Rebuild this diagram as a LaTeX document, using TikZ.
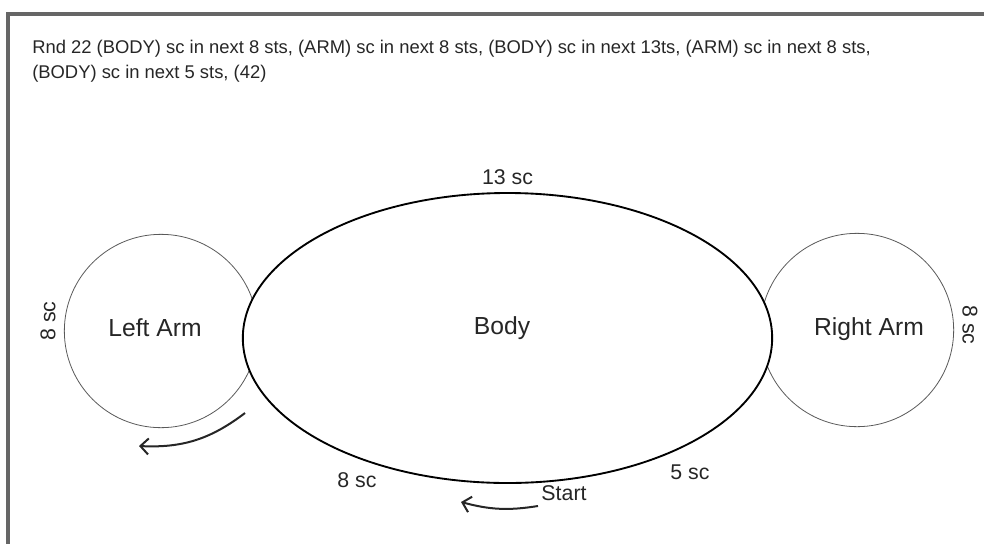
\documentclass[tikz,border=0pt]{standalone}
\usepackage{fontspec}
\setmainfont{Liberation Sans}
\usetikzlibrary{arrows.meta,positioning,shapes.geometric}

\begin{document}
\begin{tikzpicture}[x=0.75pt,y=-0.75pt]
  \tikzstyle{arm}=[circle,draw=black!65,line width=0.6pt,minimum size=145pt,inner sep=0pt]
  \tikzstyle{body}=[ellipse,draw=black,line width=1.4pt,fill=white,
  			  minimum width=397pt,minimum height=217.5pt,inner sep=0pt]
  \tikzstyle{label}=[font=\fontsize{18.5}{22}\selectfont,text=black!85,inner sep=1pt]
  \tikzstyle{count}=[font=\fontsize{16}{19}\selectfont,text=black!85,inner sep=1pt]
  \tikzstyle{turn}=[-{Straight Barb[length=6pt,width=12pt]},line width=1.5pt,black!85]
  \tikzstyle{frame}=[line width=3pt,black!60]

  \useasboundingbox (0,0) rectangle (984,543);
  \clip (0,0) rectangle (984,543);
  \draw[frame] (8,560) -- (8,14) -- (1000,14);

  \node[anchor=base west,align=left,inner sep=0pt,text=black!85,
        font=\fontsize{13.8}{18.75}\selectfont] (round) at (32,78)
    {Rnd 22 (BODY) sc in next 8 sts, (ARM) sc in next 8 sts, (BODY) sc in next 13ts, (ARM) sc in next 8 sts,\\
     (BODY) sc in next 5 sts, (42)};

  \node[arm] (leftarm) at (161,331) {};
  \node[arm] (rightarm) at (857,330) {};
  \node[body] (body) at (507.5,338) {};

  \node[label] (bodytext) at (502,328) {Body};
  \node[label] (lefttext) at (155,328) {Left Arm};
  \node[label] (righttext) at (869,329) {Right Arm};

  \node[count] (top) [above=4pt of body] {13 sc};
  \node[count,rotate=90] (leftsc) at (48,321) {8 sc};
  \node[count,rotate=-90] (rightsc) at (970,325) {8 sc};
  \node[count] (bottomsc) at (357,480) {8 sc};
  \node[count] (rightsc2) at (690,472) {5 sc};
  \node[count] (start) at (564,493) {Start};

  \coordinate (lefttail) at (245,413);
  \coordinate (lefthead) at (139,446);
  \coordinate (starttail) at (538,506);
  \coordinate (starthead) at (461,502);

  \draw[turn] (lefttail) to[bend left=20] (lefthead);
  \draw[turn] (starttail) to[bend left=12] (starthead);
\end{tikzpicture}
\end{document}
